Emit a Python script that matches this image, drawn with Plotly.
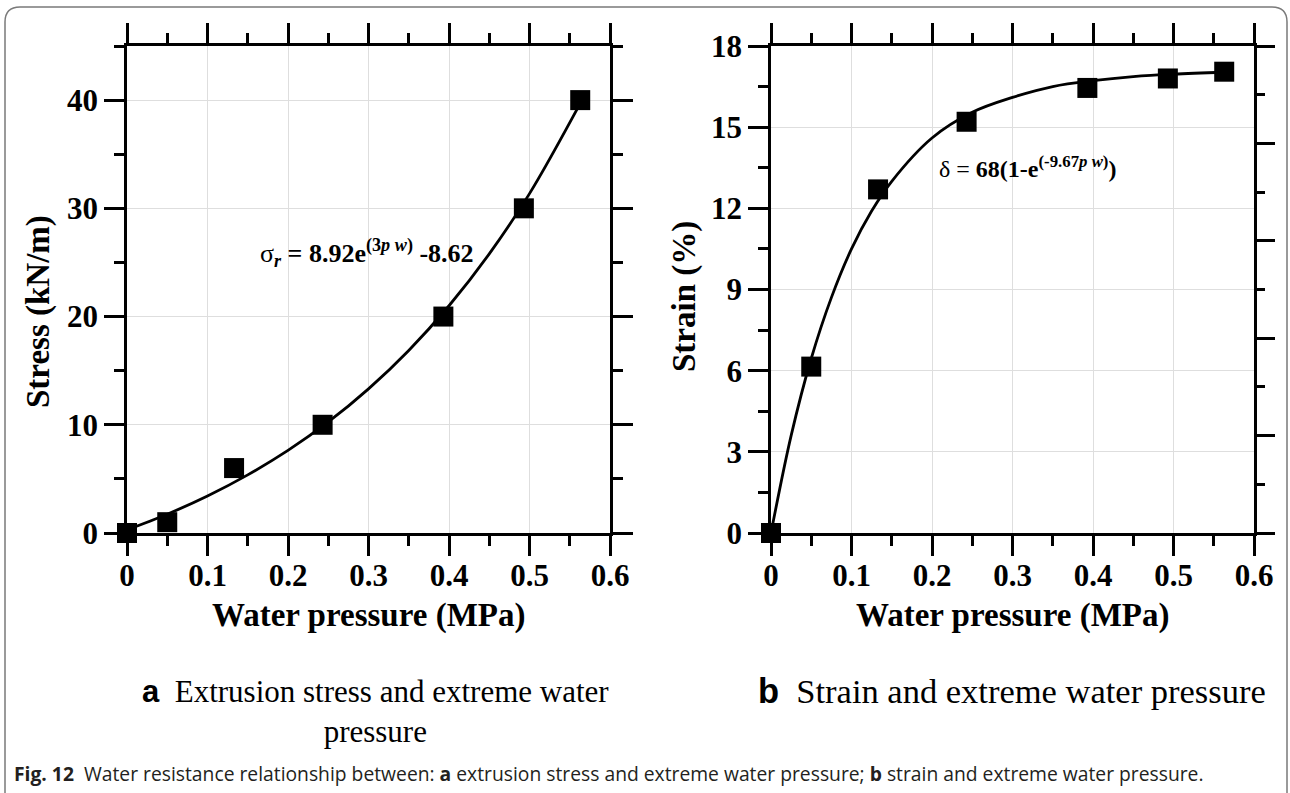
import plotly.graph_objects as go

# ---------------- data ----------------
pressure = [0, 0.05, 0.133, 0.243, 0.393, 0.493, 0.563]
stress = [0, 1, 6, 10, 20, 30, 40]
strain = [0, 6.15, 12.7, 15.2, 16.45, 16.8, 17.05]

# fitted curves
fit_a_p = [0, 0.05, 0.1, 0.15, 0.2, 0.25, 0.3, 0.35, 0.4, 0.45, 0.5, 0.563]
fit_a_s = [0.3, 1.74, 3.42, 5.37, 7.63, 10.26, 13.32, 16.87, 21.0, 25.79, 31.36, 39.7]
fit_b_p = [0, 0.025, 0.05, 0.075, 0.1, 0.125, 0.15, 0.2, 0.25, 0.3, 0.35, 0.4, 0.45, 0.5, 0.563]
fit_b_s = [0, 3.6, 6.45, 8.7, 10.5, 11.9, 13.0, 14.6, 15.55, 16.1, 16.5, 16.72, 16.87, 16.96, 17.03]

x_ticks = [0, 0.1, 0.2, 0.3, 0.4, 0.5, 0.6]
x_labels = ["0", "0.1", "0.2", "0.3", "0.4", "0.5", "0.6"]
ya_ticks = [0, 10, 20, 30, 40]
yb_ticks = [0, 3, 6, 9, 12, 15, 18]

W, H = 1290, 793
SERIF = "Liberation Serif"

def px(x):
    return x / W

def py(y):
    return 1 - y / H

fig = go.Figure()

for xa, ya, yvals, fx, fy in [("x", "y", stress, fit_a_p, fit_a_s),
                              ("x2", "y2", strain, fit_b_p, fit_b_s)]:
    fig.add_trace(go.Scatter(x=fx, y=fy, mode="lines", line=dict(color="black", width=2.8, shape="spline"),
                             xaxis=xa, yaxis=ya, showlegend=False, hoverinfo="skip", cliponaxis=False))
    fig.add_trace(go.Scatter(x=pressure, y=yvals, mode="markers",
                             marker=dict(symbol="square", size=20, color="black"),
                             xaxis=xa, yaxis=ya, showlegend=False, cliponaxis=False))

tickfont = dict(family=SERIF, size=31, color="black", weight="bold")
common = dict(showline=True, linecolor="black", linewidth=2.6, ticks="outside", ticklen=20, tickwidth=2.6,
              tickcolor="black", showgrid=True, gridcolor="#dedede", gridwidth=1, zeroline=False,
              tickfont=tickfont, automargin=False)
minor = lambda d: dict(dtick=d, ticks="outside", ticklen=10, tickwidth=2.6, tickcolor="black", showgrid=False)

ydom = [py(533), py(46)]
fig.update_layout(
    width=W, height=H, margin=dict(l=0, r=0, t=0, b=0, pad=0, autoexpand=False),
    paper_bgcolor="white", plot_bgcolor="white", showlegend=False,
    xaxis=dict(domain=[px(127), px(610)], range=[0, 0.6], tickvals=x_ticks, ticktext=x_labels,
               mirror="ticks", anchor="y", minor=minor(0.05), ticklabelstandoff=-7, **common),
    yaxis=dict(domain=ydom, range=[0, 45], tickvals=ya_ticks, mirror="ticks", anchor="x",
               minor=minor(5), **common),
    xaxis2=dict(domain=[px(771), px(1254)], range=[0, 0.6], tickvals=x_ticks, ticktext=x_labels,
                mirror="ticks", anchor="y2", minor=minor(0.05), ticklabelstandoff=-7, **common),
    yaxis2=dict(domain=ydom, range=[0, 18], tickvals=yb_ticks, mirror=True, anchor="x2",
                minor=minor(1.5), **common),
    yaxis3=dict(overlaying="y2", anchor="x2", side="right", range=[0, 10], dtick=2,
                showticklabels=False, ticks="outside", ticklen=20, tickwidth=2.6, tickcolor="black",
                showgrid=False, zeroline=False, showline=False, minor=minor(1), automargin=False),
)
fig.add_trace(go.Scatter(x=[], y=[], xaxis="x2", yaxis="y3", showlegend=False))

titlefont = dict(family=SERIF, size=33, color="black", weight="bold")
ann = []
ann.append(dict(text="Water pressure (MPa)", x=px(368), y=py(615), font=titlefont))
ann.append(dict(text="Water pressure (MPa)", x=px(1012), y=py(615), font=titlefont))
ann.append(dict(text="Stress (kN/m)", x=px(38), y=py(312), textangle=-90, font=titlefont))
ann.append(dict(text="Strain (%)", x=px(684), y=py(297), textangle=-90, font=titlefont))

ann.append(dict(text="σ<sub><b><i>r</i></b></sub>\u00a0<b>= 8.92e<sup>(3<i>p</i> <i>w</i>)</sup> -8.62</b>",
                x=px(258), y=py(273), xanchor="left", yanchor="bottom",
                font=dict(family=SERIF, size=26, color="black")))
ann.append(dict(text="δ =\u00a0<b>68(1-e<sup>(-9.67<i>p</i> <i>w</i>)</sup>)</b>",
                x=px(937), y=py(184), xanchor="left", yanchor="bottom",
                font=dict(family=SERIF, size=24, color="black")))

capa = dict(family=SERIF, size=31, color="black")
capb = dict(family=SERIF, size=34.5, color="black")
ann.append(dict(text='<span style="font-family:Liberation Sans"><b>a</b></span>\u00a0\u00a0Extrusion stress and extreme water<br>pressure',
                x=px(375), y=py(672), xanchor="center", yanchor="top", align="center", font=capa))
ann.append(dict(text='<span style="font-family:Liberation Sans"><b>b</b></span>\u00a0\u00a0Strain and extreme water pressure',
                x=px(1012), y=py(670), xanchor="center", yanchor="top", align="center", font=capb))
ann.append(dict(text="<b>Fig. 12</b>\u00a0\u00a0Water resistance relationship between: <b>a</b> extrusion stress and extreme water pressure; <b>b</b> strain and extreme water pressure.",
                x=px(12), y=py(773), xanchor="left", yanchor="middle",
                font=dict(family="Open Sans", size=19.3, color="#231f20")))

for a in ann:
    a.setdefault("xref", "paper")
    a.setdefault("yref", "paper")
    a.setdefault("showarrow", False)
    a.setdefault("xanchor", "center")
    a.setdefault("yanchor", "middle")
fig.update_layout(annotations=ann)

# rounded frame
l, t, r, b = px(5), py(7), px(1287), py(800)
rx, ry = 15 / W, 15 / H
path = (f"M {l},{b} L {l},{t - ry} Q {l},{t} {l + rx},{t} L {r - rx},{t} "
        f"Q {r},{t} {r},{t - ry} L {r},{b}")
fig.add_shape(type="path", path=path, xref="paper", yref="paper",
              line=dict(color="#7a7a7a", width=1.5), layer="above")

fig.write_html("out.html", config={"displayModeBar": False},
               post_script="document.body.style.margin='0';document.body.style.overflow='hidden';")
